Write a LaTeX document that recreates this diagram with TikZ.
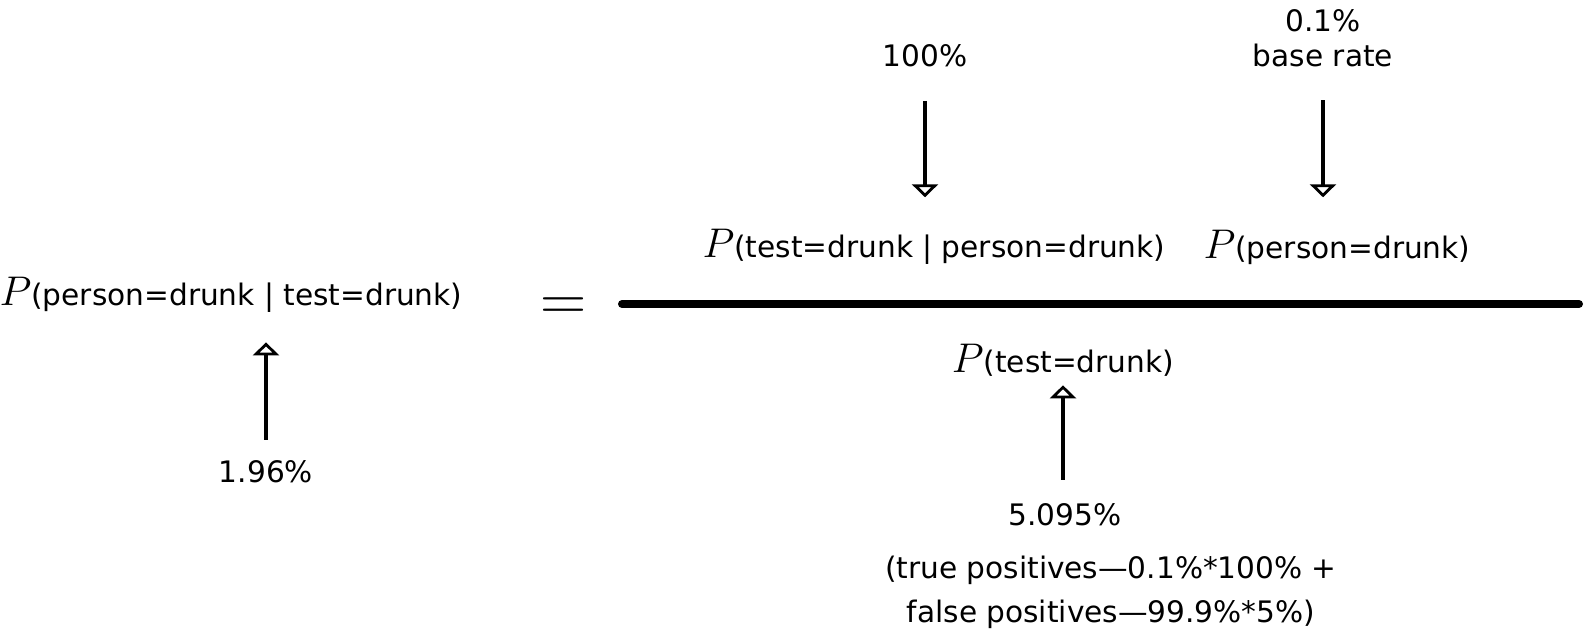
\documentclass[tikz,border=0pt]{standalone}
\usepackage{fontspec}
\setmainfont{DejaVu Sans}
\newfontfamily\eqfont{Latin Modern Roman}
\usetikzlibrary{arrows.meta,positioning}
\newcommand{\bigP}{{\fontsize{21}{21}\selectfont$P$}}

\begin{document}
\begin{tikzpicture}[x=0.5pt,y=-0.5pt,
    every node/.style={font=\fontsize{14.8}{17.5}\selectfont,inner sep=0pt,anchor=base},
    ptr/.style={line width=2.3pt,-{Triangle[open,width=13pt,length=6.5pt,line width=1.4pt]}}]
  \useasboundingbox (0,0) rectangle (1586,639);
  % left side
  \node (lhs) at (231,305) {\bigP(person=drunk | test=drunk)};
  \node (res) at (266,482) {1.96\%};
  \node[font=\eqfont\fontsize{32}{32}\selectfont] (eq) at (564,320) {=};
  % numerator
  \node (pct100) at (925,66) {100\%};
  \node[align=center,anchor=south] (baselbl) at (1323,67) {0.1\%\\base rate};
  \node (num1) at (934,257) {\bigP(test=drunk | person=drunk)};
  \node (num2) at (1337,258) {\bigP(person=drunk)};
  \draw[line width=4pt,line cap=round] (622,304) -- (1579,304);
  % denominator
  \node (den) at (1063,372) {\bigP(test=drunk)};
  \node (tot) at (1065,525) {5.095\%};
  \node[font=\fontsize{14.8}{22}\selectfont,align=center] (expl) at (1111,622)
    {(true positives—0.1\%*100\% +\\false positives—99.9\%*5\%)};
  \draw[ptr,shorten <=17pt,shorten >=15.5pt] (pct100) -- (pct100 |- num1.north);
  \draw[ptr,shorten <=16.5pt,shorten >=16pt] (baselbl) -- (baselbl |- num2.north);
  \draw[ptr,shorten <=11.5pt,shorten >=4.5pt] (den.south |- tot.north) -- (den.south);
  \draw[ptr,shorten <=10pt,shorten >=15pt] (res) -- (res |- lhs.south);
\end{tikzpicture}
\end{document}
